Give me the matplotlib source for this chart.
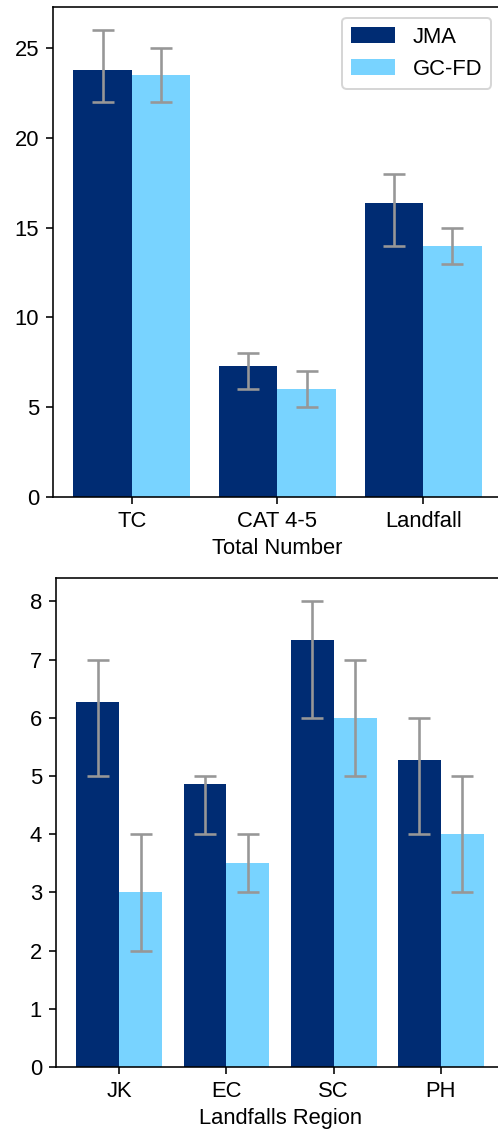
import matplotlib
matplotlib.use("Agg")
import matplotlib.pyplot as plt
import numpy as np

plt.rcParams["font.family"] = ["Liberation Sans", "DejaVu Sans"]
plt.rcParams["font.size"] = 11

# top panel: total numbers
total_cats = ["TC", "CAT 4-5", "Landfall"]
total_jma = [23.8, 7.3, 16.4]
total_jma_lo = [22, 6, 14]
total_jma_hi = [26, 8, 18]
total_gc = [23.5, 6.0, 14.0]
total_gc_lo = [22, 5, 13]
total_gc_hi = [25, 7, 15]

# bottom panel: landfall regions
region_cats = ["JK", "EC", "SC", "PH"]
region_jma = [6.27, 4.87, 7.33, 5.27]
region_jma_lo = [5, 4, 6, 4]
region_jma_hi = [7, 5, 8, 6]
region_gc = [3.0, 3.5, 6.0, 4.0]
region_gc_lo = [2, 3, 5, 3]
region_gc_hi = [4, 4, 7, 5]

C_JMA = "#002c73"
C_GC = "#78d3ff"
C_ERR = "#979797"
W = 0.4


def panel(ax, cats, jma, jlo, jhi, gc, glo, ghi, xlabel, legend=False):
    x = np.arange(len(cats))
    jma = np.array(jma)
    gc = np.array(gc)
    jerr = [jma - np.array(jlo), np.array(jhi) - jma]
    gerr = [gc - np.array(glo), np.array(ghi) - gc]
    ekw = dict(ecolor=C_ERR, elinewidth=1.3, capthick=1.3)
    ax.bar(x - W / 2, jma, W, color=C_JMA, label="JMA",
           yerr=jerr, capsize=5.5, error_kw=ekw)
    ax.bar(x + W / 2, gc, W, color=C_GC, label="GC-FD",
           yerr=gerr, capsize=5.5, error_kw=ekw)
    ax.set_xticks(x)
    ax.set_xticklabels(cats)
    ax.set_xlabel(xlabel, labelpad=3)
    if legend:
        ax.legend(loc="upper right", handlelength=2.0)


fig = plt.figure(figsize=(498 / 144, 1132 / 144), dpi=144)
ax1 = fig.add_axes([0.1064, 0.561, 0.9016, 0.4329])
ax2 = fig.add_axes([0.1124, 0.0574, 0.900, 0.432])

panel(ax1, total_cats, total_jma, total_jma_lo, total_jma_hi,
      total_gc, total_gc_lo, total_gc_hi, "Total Number", legend=True)
panel(ax2, region_cats, region_jma, region_jma_lo, region_jma_hi,
      region_gc, region_gc_lo, region_gc_hi, "Landfalls Region")

fig.savefig("out.png", dpi=144)
